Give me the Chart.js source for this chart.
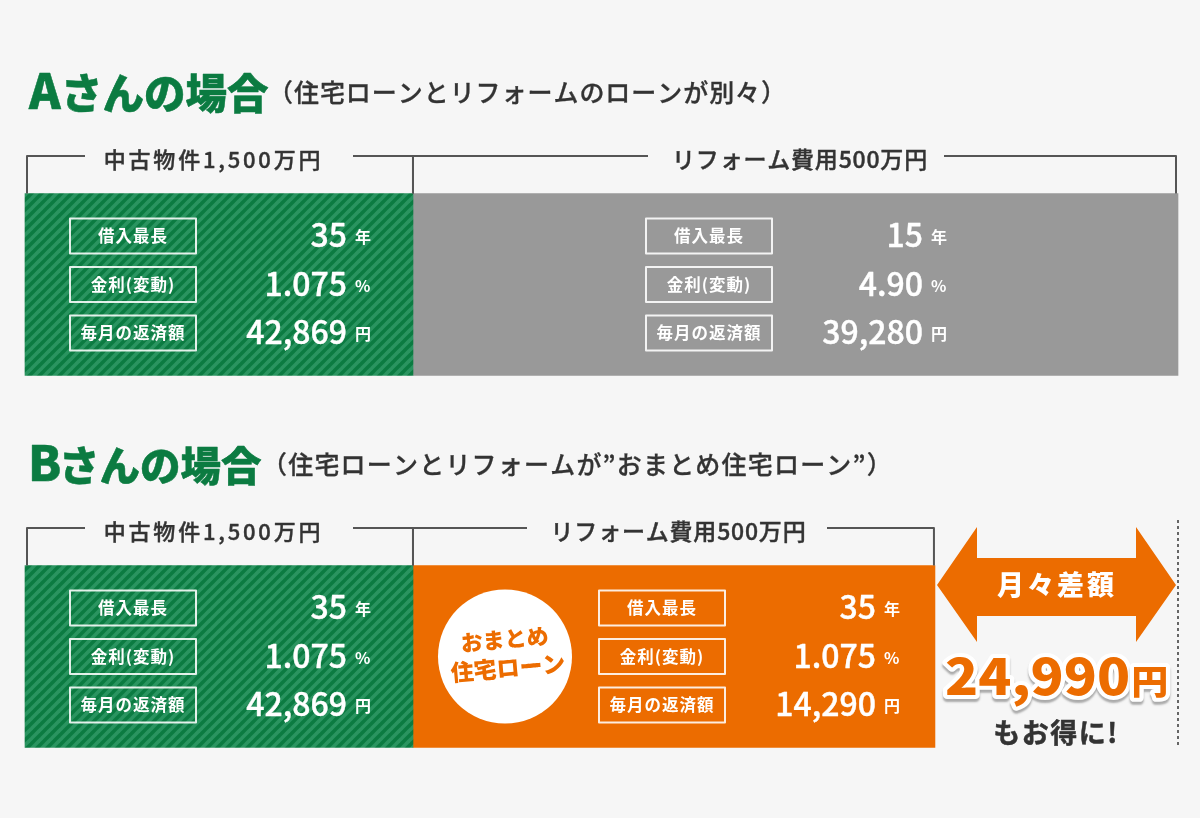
<!DOCTYPE html>
<html lang="ja">
<head>
<meta charset="utf-8">
<title>Aさんの場合 / Bさんの場合</title>
<script src="https://cdn.jsdelivr.net/npm/chart.js@4/dist/chart.umd.min.js"></script>
<style>
  html, body { margin: 0; padding: 0; background: #f6f6f6; }
  canvas { display: block; }
</style>
</head>
<body>
<canvas id="loanChart" width="1200" height="818"></canvas>
<script>
'use strict';

const FONT = '"Noto Sans CJK JP", "Noto Sans", sans-serif';

// one row per person; widths are shares of the full row
const people = ['Aさんの場合', 'Bさんの場合'];
const subtitles = ['（住宅ローンとリフォームのローンが別々）', '（住宅ローンとリフォームが”おまとめ住宅ローン”）'];
const usedHomeShare = [33.65, 33.65];
const reformSeparateShare = [66.35, null];
const reformBundledShare = [null, 45.27];

const usedHomeLabel = '中古物件1,500万円';
const reformLabel = 'リフォーム費用500万円';

const itemLabels = ['借入最長', '金利(変動)', '毎月の返済額'];
const itemUnits = ['年', '%', '円'];
const usedHomeTerms = ['35', '1.075', '42,869'];
const reformSeparateTerms = ['15', '4.90', '39,280'];
const reformBundledTerms = ['35', '1.075', '14,290'];

const GREEN = '#0b7b41';
const STRIPE = '#2a9460';
const GRAY = '#999999';
const ORANGE = '#ec6c00';
const INK = '#333333';
const RULE = '#555555';

function stripePattern() {
  const size = 10;
  const tile = document.createElement('canvas');
  tile.width = size;
  tile.height = size;
  const c = tile.getContext('2d');
  c.fillStyle = GREEN;
  c.fillRect(0, 0, size, size);
  c.strokeStyle = STRIPE;
  c.lineWidth = 3.6;
  [[-size, size, size, -size], [0, size, size, 0], [0, 2 * size, 2 * size, 0]].forEach(([x1, y1, x2, y2]) => {
    c.beginPath();
    c.moveTo(x1, y1);
    c.lineTo(x2, y2);
    c.stroke();
  });
  return c.createPattern(tile, 'repeat');
}

// thicken > 0 adds an outline, for weights the installed font does not have
function text(ctx, str, x, y, font, color, align = 'left', spacing = 0, thicken = 0) {
  ctx.font = `${font} ${FONT}`;
  ctx.textAlign = align;
  ctx.letterSpacing = `${spacing}px`;
  if (thicken) {
    ctx.strokeStyle = color;
    ctx.lineWidth = thicken;
    ctx.lineJoin = 'round';
    ctx.strokeText(str, x, y);
  }
  ctx.fillStyle = color;
  ctx.fillText(str, x, y);
  ctx.letterSpacing = '0px';
}

function drawBracket(ctx, left, right, top, bottom, label, gapLeft, gapRight, labelX, size, spacing) {
  ctx.strokeStyle = RULE;
  ctx.lineWidth = 2;
  ctx.lineCap = 'butt';
  ctx.beginPath();
  ctx.moveTo(left, bottom);
  ctx.lineTo(left, top);
  ctx.lineTo(gapLeft, top);
  ctx.moveTo(gapRight, top);
  ctx.lineTo(right, top);
  ctx.lineTo(right, bottom);
  ctx.stroke();
  text(ctx, label, labelX, top + 12, `500 ${size}px`, INK, 'center', spacing, 0.4);
}

function drawTerms(ctx, boxLeft, centerY, values) {
  const boxW = 126;
  const boxH = 35;
  const valueRight = boxLeft + 277;
  const unitLeft = boxLeft + 285;
  itemLabels.forEach((label, i) => {
    const y = centerY + (i - 1) * 48.5;
    ctx.strokeStyle = 'rgba(255,255,255,0.88)';
    ctx.lineWidth = 2;
    ctx.strokeRect(boxLeft, y - boxH / 2, boxW, boxH);
    text(ctx, label, boxLeft + boxW / 2, y + 6, '700 16.5px', '#ffffff', 'center', 1);
    text(ctx, values[i], valueRight, y + 11, '500 32px', '#ffffff', 'right', 0, 0.4);
    text(ctx, itemUnits[i], unitLeft, y + 7, '700 16px', '#ffffff');
  });
}

function drawGapArrow(ctx) {
  const pts = [[937, 585], [977, 527], [977, 558], [1136, 558], [1136, 527], [1176, 585], [1136, 642], [1136, 616], [977, 616], [977, 642]];
  ctx.fillStyle = ORANGE;
  ctx.beginPath();
  pts.forEach(([x, y], i) => (i ? ctx.lineTo(x, y) : ctx.moveTo(x, y)));
  ctx.closePath();
  ctx.fill();
  text(ctx, '月々差額', 1057, 595, '900 27px', '#ffffff', 'center', 3);
}

function drawSaving(ctx) {
  // white outline with a soft grey drop under it
  const drop = 'rgba(120,120,120,0.6)';
  ctx.save();
  ctx.translate(945, 695);
  ctx.scale(1.09, 1);
  const amount = '24,990';
  ctx.font = `900 50px ${FONT}`;
  ctx.textAlign = 'left';
  ctx.lineJoin = 'round';
  ctx.lineWidth = 8;
  ctx.strokeStyle = '#ffffff';
  ctx.shadowColor = drop;
  ctx.shadowOffsetY = 3;
  ctx.shadowBlur = 2;
  ctx.strokeText(amount, 0, 0);
  ctx.shadowColor = 'transparent';
  ctx.fillStyle = ORANGE;
  ctx.fillText(amount, 0, 0);
  const w = ctx.measureText(amount).width;
  ctx.font = `900 34px ${FONT}`;
  ctx.shadowColor = drop;
  ctx.shadowOffsetY = 3;
  ctx.shadowBlur = 2;
  ctx.strokeText('円', w + 1, -1);
  ctx.shadowColor = 'transparent';
  ctx.fillText('円', w + 1, -1);
  ctx.restore();
  text(ctx, 'もお得に!', 1056, 743, '700 27px', INK, 'center', 1.5, 0.5);
}

const annotations = {
  id: 'annotations',
  afterDatasetsDraw(chart) {
    const { ctx, scales: { x, y } } = chart;
    const rows = people.map((_, i) => y.getPixelForValue(i));
    const left = x.getPixelForValue(0);
    const split = x.getPixelForValue(usedHomeShare[0]);

    ctx.save();
    ctx.textBaseline = 'alphabetic';

    // headings
    people.forEach((name, i) => {
      const top = rows[i] - 176;
      text(ctx, name[0], left + (i ? 3 : 4), top, '900 48px', GREEN, 'left', 0, 0.5);
      text(ctx, name.slice(1), left + (i ? 34 : 36), top, `900 ${i ? 40.5 : 41.5}px`, GREEN, 'left', 0, 0.5);
      text(ctx, subtitles[i], i ? 262 : 268, rows[i] - 183, '500 25px', INK, 'left', i ? 1.2 : 0.95, 0.3);
    });

    // brackets over the bars
    const end = [x.getPixelForValue(usedHomeShare[0] + reformSeparateShare[0]), x.getPixelForValue(usedHomeShare[1] + reformBundledShare[1])];
    const gaps = [[648, 944], [527, 827]];
    const reformLabelX = [800, 678.5];
    rows.forEach((rowY, i) => {
      const top = rowY - 128.5;
      const bottom = rowY - 91;
      drawBracket(ctx, left + 2, split, top, bottom, usedHomeLabel, 85, 353, 213.5, 22, 2.8);
      drawBracket(ctx, split, end[i] - (i ? 1 : 2), top, bottom, reformLabel, gaps[i][0], gaps[i][1], reformLabelX[i], 23, 0.8);
    });

    // loan terms inside the bars
    drawTerms(ctx, 70, rows[0], usedHomeTerms);
    drawTerms(ctx, 646, rows[0], reformSeparateTerms);
    drawTerms(ctx, 70, rows[1], usedHomeTerms);
    drawTerms(ctx, 599, rows[1], reformBundledTerms);

    // bundled loan badge
    ctx.fillStyle = '#ffffff';
    ctx.beginPath();
    ctx.arc(505, rows[1], 67, 0, Math.PI * 2);
    ctx.fill();
    ctx.save();
    ctx.translate(507, rows[1]);
    ctx.rotate(-5 * Math.PI / 180);
    text(ctx, 'おまとめ', -1, -9, '900 22px', ORANGE, 'center', 0);
    text(ctx, '住宅ローン', 0, 20, '900 23px', ORANGE, 'center', 0);
    ctx.restore();

    drawGapArrow(ctx);
    drawSaving(ctx);

    // dotted rule at the far right
    ctx.strokeStyle = '#666666';
    ctx.lineWidth = 2;
    ctx.setLineDash([3, 3]);
    ctx.beginPath();
    ctx.moveTo(1178, 520);
    ctx.lineTo(1178, 748);
    ctx.stroke();
    ctx.restore();
  },
};

const pageBackground = {
  id: 'pageBackground',
  beforeDraw(chart) {
    const { ctx, width, height } = chart;
    ctx.save();
    ctx.fillStyle = '#f6f6f6';
    ctx.fillRect(0, 0, width, height);
    ctx.restore();
  },
};

new Chart(document.getElementById('loanChart'), {
  type: 'bar',
  data: {
    labels: people,
    datasets: [
      { label: usedHomeLabel, data: usedHomeShare, backgroundColor: stripePattern() },
      { label: 'リフォーム（別々）', data: reformSeparateShare, backgroundColor: GRAY },
      { label: 'リフォーム（おまとめ）', data: reformBundledShare, backgroundColor: ORANGE },
    ].map((set) => ({ ...set, barThickness: 182, borderWidth: 0, clip: false })),
  },
  options: {
    indexAxis: 'y',
    responsive: false,
    animation: false,
    layout: { padding: { left: 25, right: 22, top: 284.5, bottom: 161.5 } },
    plugins: { legend: { display: false }, tooltip: { enabled: false } },
    scales: {
      x: { stacked: true, display: false, min: 0, max: 100 },
      y: { stacked: true, display: false, offset: false },
    },
  },
  plugins: [pageBackground, annotations],
});
</script>
</body>
</html>
